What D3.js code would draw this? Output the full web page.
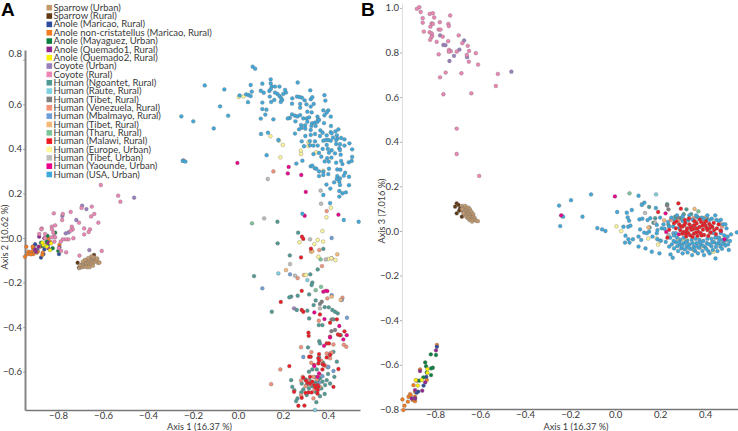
<!DOCTYPE html>
<html><head><meta charset="utf-8">
<script src="https://cdn.jsdelivr.net/npm/d3@7/dist/d3.min.js"></script>
<style>html,body{margin:0;padding:0;background:#fff}svg{display:block}</style>
</head><body><svg id="c" width="738" height="431"></svg>
<script>
const seriesNames=["Sparrow (Urban)","Sparrow (Rural)","Anole (Maricao, Rural)","Anole non-cristatellus (Maricao, Rural)","Anole (Mayaguez, Urban)","Anole (Quemado1, Rural)","Anole (Quemado2, Rural)","Coyote (Urban)","Coyote (Rural)","Human (Ngoantet, Rural)","Human (Raute, Rural)","Human (Tibet, Rural)","Human (Venezuela, Rural)","Human (Mbalmayo, Rural)","Human (Tibet, Rural)","Human (Tharu, Rural)","Human (Malawi, Rural)","Human (Europe, Urban)","Human (Tibet, Urban)","Human (Yaounde, Urban)","Human (USA, Urban)"];
const seriesColors=["#c49a6c","#603913","#2e4a9e","#f47b20","#0a7f3f","#92278f","#fff200","#9a7fbf","#ee86b5","#4f9a94","#7fd0e0","#808080","#f4937a","#6f9fd8","#f7b977","#7cc49a","#ed1c24","#fff799","#bdbdbd","#ec008c","#3fa9dc"];
const xTicks=[-0.8,-0.6,-0.4,-0.2,0,0.2,0.4];
const yTicksA=[-0.6,-0.4,-0.2,0,0.2,0.4,0.6,0.8];
const yTicksB=[-0.8,-0.6,-0.4,-0.2,0,0.2,0.4,0.6,0.8,1.0];

// Panel A
const a0=[[-.705,-.135],[-.698,-.128],[-.702,-.122],[-.692,-.131],[-.688,-.122],[-.684,-.128],[-.69,-.115],[-.68,-.117],[-.676,-.125],[-.682,-.108],[-.674,-.112],[-.668,-.12],[-.67,-.104],[-.664,-.113],[-.66,-.122],[-.672,-.131],[-.662,-.1],[-.656,-.109],[-.652,-.117],[-.654,-.097],[-.648,-.104],[-.645,-.112],[-.64,-.098],[-.636,-.106],[-.648,-.088],[-.652,-.082],[-.642,-.086],[-.632,-.094],[-.628,-.102],[-.622,-.112],[-.616,-.11],[-.626,-.092],[-.66,-.131],[-.666,-.09],[-.68,-.098],[-.645,-.124],[-.69,-.106]];
const a1=[[-.713,-.111],[-.707,-.133],[-.695,-.121],[-.687,-.114],[-.68,-.102],[-.64,-.076],[-.67,-.121],[-.655,-.096]];
const a2=[[-.902,-.028],[-.876,-.088],[-.865,-.072],[-.905,-.061],[-.861,-.051],[-.796,-.072],[-.91,-.039],[-.892,-.054]];
const a3=[[-.947,-.084],[-.941,-.039],[-.932,-.061],[-.924,-.069],[-.917,-.061],[-.91,-.046],[-.902,-.054],[-.895,-.066],[-.91,-.072],[-.89,-.061],[-.935,-.072],[-.921,-.073],[-.868,-.066],[-.87,-.076],[-.794,-.031],[-.836,-.016],[-.843,-.001],[-.88,-.039],[-.913,-.039],[-.85,-.021]];
const a4=[[-.847,.01],[-.813,.024],[-.876,-.021],[-.843,-.027],[-.824,-.046],[-.799,-.058],[-.85,-.016],[-.868,-.036]];
const a5=[[-.884,.006],[-.861,-.001],[-.843,-.021],[-.898,-.061],[-.843,-.046],[-.887,-.039],[-.902,-.051],[-.794,-.042]];
const a6=[[-.865,-.031],[-.836,-.054],[-.831,-.024],[-.85,-.039],[-.87,-.021]];
const a7=[[-.462,.181],[-.693,.145],[-.674,.13],[-.781,.099],[-.719,.081],[-.766,.021],[-.754,.025],[-.661,-.054],[.249,-.316],[-.243,.348]];
const a8=[[-.819,.111],[-.779,.108],[-.744,.117],[-.782,.081],[-.696,.135],[-.65,.141],[-.639,.108],[-.653,.097],[-.621,.069],[-.707,.069],[-.873,.043],[-.874,.039],[-.828,.051],[-.813,.057],[-.827,.039],[-.821,.025],[-.739,.051],[-.735,.039],[-.744,.033],[-.658,.039],[-.664,.027],[-.684,.043],[-.684,.016],[-.732,-.001],[-.754,-.006],[-.766,-.006],[-.779,-.006],[-.788,-.016],[-.884,.018],[-.858,.018],[-.818,.009],[-.813,.003],[-.816,-.016],[-.828,.003],[-.858,-.001],[-.787,-.058],[-.764,-.064],[-.796,-.046],[-.705,-.079],[-.606,-.058],[-.61,.238],[-.533,.19],[-.523,.163]];
const a9=[[.175,.073],[.267,.024],[.176,-.024],[.23,-.078],[.354,-.141],[.379,-.049],[.071,-.171],[.33,-.2],[.321,-.163],[.15,-.331],[.265,-.259],[.316,-.253],[.236,-.263],[.228,-.266],[.336,-.301],[.308,-.326],[.261,-.323],[.316,-.361],[.431,-.331],[.419,-.323],[.403,-.311],[.443,-.338],[.359,-.391],[.375,-.391],[.424,-.365],[.456,-.436],[.361,-.463],[.311,-.491],[.364,-.473],[.424,-.511],[.409,-.521],[.439,-.555],[.236,-.638],[.283,-.653],[.305,-.66],[.317,-.638],[.394,-.638],[.428,-.623],[.409,-.653],[.387,-.66],[.364,-.63],[.241,-.668],[.25,-.683],[.281,-.693],[.305,-.705],[.364,-.71],[.385,-.7],[.264,-.72],[.258,-.732],[.348,-.737],[.327,-.211],[.345,-.648],[.37,-.675],[.33,-.59],[.35,-.59],[.3,-.635],[.33,-.665],[.375,-.645],[.315,-.675],[.345,-.69],[.4,-.61],[.378,-.56],[.36,-.535],[.315,-.6],[.345,-.28],[.385,-.31],[.4,-.58],[.29,-.68],[.345,-.625]];
const a10=[[.179,-.159],[.308,-.189],[.342,-.772]];
const a11=[[.416,-.091],[.372,-.286],[.364,-.296],[.415,-.418],[.416,-.365],[.431,-.413],[.33,-.66],[.355,-.64]];
const a12=[[.157,.299],[.394,.121],[.361,-.054],[.373,-.126],[.464,-.268],[.359,-.371],[.28,-.49],[.47,-.479],[.481,-.488],[.424,-.478],[.326,-.512],[.394,-.518],[.409,-.518],[.416,-.515],[.188,-.59],[.147,-.656],[.28,-.705],[.32,-.657],[.364,-.615],[.335,-.623],[.364,-.668],[.287,-.623],[.265,-.18],[.397,-.271],[.409,-.54],[.31,-.64],[.35,-.635],[.325,-.56],[.37,-.55],[.34,-.68],[.3,-.665],[.39,-.575],[.335,-.72],[.28,-.64]];
const a13=[[.416,0],[.108,-.226],[.231,-.163],[.461,-.278],[.484,-.358],[.29,-.534],[.424,-.597],[.401,-.578],[.416,-.256],[.375,-.62],[.36,-.65]];
const a14=[[.213,-.144],[.441,-.073],[.293,-.166],[.416,-.263],[.456,-.278],[.324,-.061],[.33,-.06]];
const a15=[[.062,.066],[.345,-.234],[.369,-.219],[.367,-.096]];
const a16=[[.284,.006],[.29,-.004],[.324,-.048],[.28,-.087],[.283,-.237],[.19,-.287],[.283,-.323],[.29,-.331],[.364,-.343],[.409,-.38],[.439,-.365],[.473,-.419],[.313,-.425],[.314,-.439],[.444,-.433],[.453,-.436],[.409,-.443],[.394,-.473],[.404,-.473],[.36,-.521],[.323,-.533],[.316,-.533],[.357,-.54],[.394,-.536],[.228,-.575],[.338,-.57],[.357,-.563],[.376,-.567],[.382,-.57],[.446,-.588],[.29,-.627],[.32,-.623],[.308,-.65],[.32,-.653],[.339,-.66],[.354,-.66],[.354,-.683],[.353,-.698],[.424,-.668],[.249,-.69],[.313,-.693],[.327,-.693],[.283,-.717],[.268,-.753],[.295,-.752],[.357,-.668],[.409,-.525],[.302,-.64],[.33,-.645],[.345,-.672],[.36,-.55],[.375,-.59],[.3,-.695]];
const a17=[[.003,.633],[.024,.635],[.144,.457],[.182,.437],[.199,.418],[.188,.362],[.313,.43],[.313,.413],[.279,.392],[.28,.377],[.347,.385],[.379,.302],[.413,.136],[.393,.093],[.375,.031],[.273,-.019],[.339,-.027],[.354,-.009],[.378,-.016],[.357,-.084],[.401,-.094],[.415,-.091],[.433,-.099],[.301,-.166]];
const a18=[[.132,.265],[.367,.213],[.369,.154],[.116,.088],[.32,-.006],[.231,-.117],[.253,-.169],[.39,-.096],[.364,-.316]];
const a19=[[-.003,.337],[.225,.319],[.221,.29],[.281,.283],[.301,.207],[.296,.1],[.446,.105],[.379,-.241],[.39,-.237],[.397,-.238],[.339,-.334],[.384,-.364],[.45,-.395],[.409,-.446],[.483,-.436],[.468,-.455],[.382,-.484],[.339,-.575],[.36,-.608],[.354,-.623]];
const a20=[[.065,.769],[.076,.76],[-.148,.685],[-.061,.667],[.056,.687],[.061,.657],[.007,.64],[.036,.645],[.046,.642],[.056,.637],[.044,.61],[-.08,.591],[-.044,.549],[-.252,.546],[-.199,.524],[-.108,.492],[-.246,.346],[-.234,.343],[.108,.693],[.145,.712],[.145,.694],[.101,.661],[.114,.652],[.15,.68],[.164,.68],[.184,.68],[.139,.66],[.145,.668],[.209,.665],[.213,.653],[.201,.647],[.164,.653],[.175,.647],[.184,.638],[.191,.629],[.196,.62],[.19,.611],[.161,.62],[.147,.611],[.141,.635],[.108,.608],[.108,.579],[.126,.576],[.121,.554],[.101,.536],[.157,.533],[.265,.698],[.321,.663],[.384,.641],[.388,.617],[.241,.627],[.262,.635],[.273,.633],[.284,.63],[.296,.618],[.323,.623],[.33,.632],[.276,.602],[.304,.6],[.336,.602],[.24,.603],[.323,.59],[.24,.555],[.253,.549],[.264,.546],[.276,.585],[.276,.552],[.308,.567],[.327,.564],[.379,.573],[.401,.573],[.394,.563],[.384,.551],[.412,.545],[.23,.539],[.221,.537],[.29,.537],[.305,.537],[.316,.542],[.255,.524],[.353,.545],[.356,.533],[.308,.522],[.329,.515],[.341,.518],[.353,.522],[.36,.53],[.382,.516],[.28,.507],[.298,.506],[.271,.488],[.283,.495],[.299,.491],[.326,.503],[.323,.485],[.345,.503],[.413,.503],[.446,.488],[.433,.479],[.412,.475],[.366,.483],[.376,.473],[.394,.461],[.323,.463],[.342,.467],[.364,.458],[.253,.469],[.102,.467],[.133,.473],[.299,.458],[.416,.47],[.439,.461],[.422,.451],[.441,.446],[.379,.437],[.39,.44],[.401,.44],[.412,.437],[.436,.44],[.458,.449],[.473,.443],[.495,.425],[.283,.434],[.319,.435],[.342,.434],[.179,.44],[.293,.412],[.32,.416],[.335,.415],[.354,.415],[.394,.418],[.399,.4],[.436,.422],[.453,.421],[.473,.415],[.45,.403],[.453,.395],[.376,.4],[.416,.394],[.404,.383],[.431,.38],[.456,.374],[.507,.398],[.507,.364],[.335,.377],[.36,.382],[.127,.372],[.37,.365],[.385,.344],[.415,.361],[.396,.358],[.492,.34],[.505,.346],[.458,.346],[.436,.338],[.403,.343],[.286,.347],[.259,.334],[.323,.322],[.33,.325],[.341,.313],[.348,.311],[.404,.311],[.464,.332],[.36,.299],[.379,.298],[.401,.287],[.379,.283],[.36,.278],[.441,.308],[.455,.307],[.441,.278],[.453,.268],[.476,.293],[.493,.275],[.47,.28],[.439,.265],[.427,.25],[.393,.24],[.45,.253],[.453,.238],[.493,.237],[.41,.222],[.45,.211],[.464,.201],[.479,.205],[.45,.186],[.379,.193],[.409,.157],[.286,.109],[.47,.081],[.536,.073]];

// Panel B
const b0=[[-.68,.112],[-.672,.105],[-.666,.112],[-.662,.1],[-.675,.094],[-.668,.09],[-.658,.092],[-.652,.105],[-.646,.098],[-.66,.082],[-.654,.084],[-.648,.086],[-.642,.09],[-.636,.082],[-.668,.076],[-.662,.07],[-.652,.074],[-.645,.072],[-.638,.07],[-.63,.074],[-.66,.062],[-.654,.058],[-.646,.062],[-.638,.06],[-.63,.062],[-.624,.058],[-.648,.05],[-.64,.05],[-.632,.05],[-.624,.05],[-.618,.046],[-.61,.044],[-.636,.042],[-.674,.08],[-.68,.098]];
const b1=[[-.704,.124],[-.696,.117],[-.711,.109],[-.689,.102],[-.704,.079],[-.681,.064],[-.693,.091],[-.674,.087]];
const b2=[[-.882,-.725],[-.875,-.72],[-.889,-.75],[-.851,-.693],[-.839,-.654],[-.792,-.519]];
const b3=[[-.945,-.755],[-.936,-.783],[-.941,-.803],[-.921,-.765],[-.911,-.731],[-.918,-.743],[-.899,-.758],[-.889,-.763],[-.889,-.721],[-.896,-.691],[-.882,-.671],[-.867,-.621],[-.792,-.511],[-.837,-.668],[-.908,-.736],[-.889,-.743]];
const b4=[[-.844,-.589],[-.84,-.606],[-.819,-.553],[-.796,-.556],[-.81,-.613],[-.818,-.616],[-.818,-.646],[-.837,-.634],[-.87,-.671],[-.852,-.656]];
const b5=[[-.796,-.535],[-.867,-.628],[-.857,-.716],[-.844,-.679],[-.889,-.713],[-.904,-.751],[-.889,-.751]];
const b6=[[-.834,-.619],[-.834,-.636],[-.877,-.693],[-.859,-.668],[-.886,-.668]];
const b7=[[-.778,.877],[-.763,.834],[-.754,.833],[-.671,.854],[-.692,.813],[-.716,.785],[-.658,.779],[-.736,.762],[-.461,.714],[-.237,.068]];
const b8=[[-.881,.996],[-.87,1.003],[-.864,.982],[-.855,.954],[-.855,.934],[-.85,.894],[-.824,.973],[-.81,.976],[-.804,.957],[-.821,.916],[-.815,.931],[-.81,.928],[-.779,.936],[-.741,.928],[-.739,.919],[-.733,.966],[-.824,.891],[-.815,.886],[-.813,.876],[-.816,.868],[-.822,.857],[-.784,.903],[-.776,.903],[-.766,.871],[-.793,.848],[-.742,.851],[-.695,.877],[-.679,.842],[-.655,.83],[-.649,.807],[-.619,.797],[-.784,.792],[-.738,.812],[-.73,.806],[-.739,.804],[-.704,.804],[-.659,.789],[-.65,.759],[-.609,.746],[-.753,.71],[-.683,.707],[-.778,.689],[-.521,.704],[-.53,.65],[-.763,.613],[-.639,.617],[-.704,.459],[-.704,.345],[-.604,.247]];
const b9=[[.151,.108],[.231,.12],[.317,.097],[.178,.057],[.305,.075],[.338,.076],[.267,.064],[.17,.037],[.153,.016],[.363,.064],[.407,.057],[.289,.057],[.237,.027]];
const b10=[[.182,.164]];
const b11=[[.237,.097],[.231,.114],[.281,.057]];
const b12=[[.247,.049],[.348,.057],[.36,.042],[.467,.031],[.474,.019],[.281,.046],[.393,.042],[.422,-.01]];
const b13=[[.437,-.01],[.452,-.028],[.259,-.01]];
const b14=[[.353,.099],[.218,.048],[.399,.06],[.148,.016],[.267,.049]];
const b15=[[.064,.169],[.37,.088]];
const b16=[[.281,.124],[.292,.1],[.191,.085],[.262,.035],[.24,.005],[.232,-.03],[.27,.012],[.285,.03],[.29,.003],[.3,.02],[.305,-.004],[.312,.036],[.32,.012],[.325,-.01],[.33,.03],[.338,.005],[.345,.022],[.35,-.012],[.358,.012],[.362,.034],[.37,-.004],[.375,.018],[.382,.04],[.39,.006],[.395,-.018],[.402,.024],[.41,.004],[.418,.032],[.425,-.006],[.432,.018],[.44,.004],[.448,-.014],[.452,.012],[.46,.03],[.468,.002],[.298,-.012],[.316,-.024],[.334,-.02],[.352,.044],[.366,-.022],[.384,-.02],[.404,.044],[.42,.012],[.272,.042],[.31,.05],[.328,.056],[.346,.008],[.376,.052],[.396,.034],[.438,.036],[.292,.02],[.36,-.006],[.414,-.022],[.344,-.026],[.307,.026],[.318,.002],[.334,.016],[.352,.026],[.366,.012],[.388,.024],[.406,.014],[.424,.024],[.314,-.012],[.38,-.01]];
const b17=[[.006,.021],[.027,-.001],[.147,-.034],[.185,-.033],[.201,-.045],[.191,-.061],[.281,-.037],[.301,-.037],[.348,-.085],[.437,-.093],[.319,-.04],[.385,-.07]];
const b18=[[.119,.12],[.133,.081],[.178,.037],[.237,-.018]];
const b19=[[-.001,.155],[.224,.079],[.227,-.004],[.471,0],[.486,-.037],[-.24,.07],[.283,-.015]];
const b20=[[-.249,.114],[-.196,.138],[-.107,.164],[.104,.158],[-.231,.064],[-.244,.022],[-.145,.064],[-.079,.013],[-.058,.007],[-.043,0],[.009,.085],[.052,.082],[.074,.094],[.13,.127],[.119,.117],[.181,.103],[.056,.061],[.062,.046],[.037,.019],[.058,.019],[.068,.024],[.046,-.021],[.079,-.037],[.059,-.037],[.064,-.052],[.044,-.052],[.104,-.025],[.116,-.04],[.104,-.07],[.135,-.078],[.163,-.093],[.197,-.1],[.111,.007],[.108,.052],[.121,.055],[.144,.049],[.156,.057],[.129,-.007],[.141,-.01],[.151,-.003],[.185,.027],[.188,.004],[.207,.012],[.185,-.01],[.166,-.025],[.188,-.037],[.203,-.043],[.225,-.049],[.541,-.006],[.446,-.123],[.256,-.12],[.246,-.105],
[.24,-.07],[.252,-.06],[.262,-.078],[.27,-.05],[.28,-.09],[.276,-.068],[.288,-.06],[.294,-.078],[.3,-.1],[.31,-.082],[.305,-.055],[.318,-.068],[.322,-.096],[.33,-.06],[.336,-.08],[.342,-.108],[.35,-.07],[.356,-.09],[.362,-.055],[.368,-.1],[.374,-.076],[.38,-.06],[.388,-.09],[.395,-.108],[.4,-.072],[.408,-.055],[.414,-.09],[.42,-.1],[.428,-.068],[.434,-.085],[.44,-.05],[.448,-.072],[.455,-.09],[.46,-.055],[.468,-.07],[.475,-.08],[.482,-.055],[.49,-.065],[.495,-.04],[.502,-.06],[.505,-.085],[.51,-.045],[.5,-.025],[.515,-.015],[.485,-.02],[.48,.03],[.495,.012],[.47,.05],[.445,.07],[.43,.055],[.41,.07],[.385,.06],[.36,.07],[.33,.07],[.3,.065],[.275,.07],[.25,.06],[.235,.04],[.22,.01],[.245,-.03],[.262,-.02],[.275,-.03],[.29,-.04],[.305,-.03],[.32,-.045],[.34,-.04],[.358,-.035],[.375,-.04],[.392,-.045],[.41,-.035],[.428,-.035],[.445,-.03],[.462,-.03],[.478,-.04],[.2,.06],[.215,.03],[.258,.02],[.45,.05],[.47,-.01],
[.26,-.045],[.285,-.05],[.297,-.068],[.315,-.05],[.327,-.075],[.345,-.055],[.352,-.085],[.365,-.07],[.378,-.05],[.39,-.066],[.405,-.08],[.418,-.06],[.432,-.05],[.45,-.058],[.463,-.042],[.475,-.058],[.488,-.042],[.3,.045],[.325,.048],[.345,.05],[.37,.06],[.395,.055],[.42,.05],[.46,.045],[.49,.03],[.24,.02],[.265,.05],[.285,.015],[.27,-.01]];

const panelA=[a1,a0,a2,a3,a4,a5,a6,a7,a8,a9,a10,a11,a12,a13,a14,a15,a16,a17,a18,a19,a20];
const orderA=[1,0,2,3,4,5,6,7,8,9,10,11,12,13,14,15,16,17,18,19,20];
const panelB=[b1,b0,b3,b2,b4,b5,b6,b7,b8,b9,b10,b11,b12,b13,b14,b15,b17,b18,b20,b19,b16];
const orderB=[1,0,3,2,4,5,6,7,8,9,10,11,12,13,14,15,17,18,20,19,16];

const svg=d3.select("#c");
const FONT="Lato,sans-serif", TXT="#3a3a3a";

function panel(opts){
  const x=d3.scaleLinear().domain(opts.xd).range(opts.xr);
  const y=d3.scaleLinear().domain(opts.yd).range(opts.yr);
  const gx=svg.append("g").attr("transform",`translate(0,${opts.yr[0]})`)
    .call(d3.axisBottom(x).tickValues(xTicks).tickSize(2).tickSizeOuter(0).tickPadding(0.5).tickFormat(d3.format(".1f")));
  const gy=svg.append("g").attr("transform",`translate(${opts.xr[0]},0)`)
    .call(d3.axisLeft(y).tickValues(opts.yt).tickSize(2).tickSizeOuter(0).tickPadding(1).tickFormat(d3.format(".1f")));
  [gx,gy].forEach(g=>{g.selectAll("text").attr("font-family",FONT).attr("font-size",9.6).attr("fill",TXT);
    g.selectAll(".tick line").attr("stroke","#777").attr("stroke-width",.6);});
  gx.select(".domain").attr("stroke","#777").attr("stroke-width",1.6);
  gy.select(".domain").attr("stroke",opts.leftC).attr("stroke-width",opts.leftW);
  if(opts.topShift) gy.selectAll(".tick").filter(d=>d===0.8).select("text").attr("dy","-0.3em");
  svg.append("text").attr("x",opts.xt).attr("y",429.5).attr("text-anchor","middle")
    .attr("font-family",FONT).attr("font-size",9.2).attr("fill",TXT).text("Axis 1 (16.37 %)");
  svg.append("text").attr("transform",`translate(${opts.yl},${opts.ym}) rotate(-90)`).attr("text-anchor","middle")
    .attr("font-family",FONT).attr("font-size",9.2).attr("fill",TXT).text(opts.ytitle);
  opts.data.forEach((pts,i)=>{
    const si=opts.order[i];
    svg.append("g").selectAll("circle").data(pts).join("circle")
      .attr("cx",d=>x(d[0])).attr("cy",d=>y(d[1])).attr("r",1.9)
      .attr("fill",seriesColors[si]).attr("stroke","#6d6d6d").attr("stroke-width",.35);
  });
  svg.append("text").attr("x",opts.lx).attr("y",15.5).attr("font-family","'Liberation Sans',sans-serif")
    .attr("font-weight","bold").attr("font-size",19).attr("fill","#000").text(opts.letter);
}

panel({xd:[-.947,.542],xr:[25,360],yd:[-.772,.844],yr:[410,50],yt:yTicksA,leftC:"#858585",leftW:2,topShift:true,
  xt:199.5,yl:8,ym:237,ytitle:"Axis 2 (10.62 %)",data:panelA,order:orderA,lx:1,letter:"A"});
panel({xd:[-.947,.546],xr:[402,738],yd:[-.798,1.022],yr:[409,3],yt:yTicksB,leftC:"#dedede",leftW:1,
  xt:576,yl:384.5,ym:211,ytitle:"Axis 3 (7.016 %)",data:panelB,order:orderB,lx:361,letter:"B"});

const lg=svg.append("g");
const ly=d3.scalePoint().domain(seriesNames.map((d,i)=>i)).range([7.7,174.5]);
seriesNames.forEach((n,i)=>{
  lg.append("rect").attr("x",46.5).attr("y",ly(i)-2.8).attr("width",5.6).attr("height",5.6).attr("fill",seriesColors[i]);
  lg.append("text").attr("x",53.5).attr("y",ly(i)+3.1).attr("font-family",FONT).attr("font-size",9.5).attr("fill",TXT).text(n);
});
</script></body></html>
